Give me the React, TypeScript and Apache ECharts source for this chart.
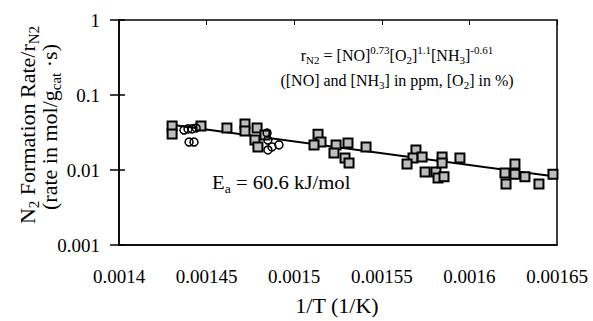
import React, { useEffect, useRef } from "react";
import * as echarts from "echarts";

// 1/T (1/K) values and N2 formation rate / r_N2 (square markers)
const squareX = [
  0.0014303, 0.0014303, 0.0014468, 0.0014616, 0.0014719, 0.0014719, 0.0014788,
  0.0014776, 0.0014793, 0.0014833, 0.0015136, 0.0015153, 0.0015113, 0.0015239,
  0.0015227, 0.0015307, 0.001529, 0.0015313, 0.001541, 0.0015695, 0.0015678,
  0.0015644, 0.001573, 0.0015747, 0.0015809, 0.0015821, 0.0015855, 0.0015844,
  0.0015844, 0.0015946, 0.001626, 0.0016203, 0.001626, 0.0016209, 0.0016317,
  0.0016397, 0.0016477,
];
const squareY = [
  0.0386, 0.0302, 0.0386, 0.0363, 0.041, 0.0331, 0.0363,
  0.0251, 0.0203, 0.0293, 0.0299, 0.0236, 0.0216, 0.0216,
  0.0169, 0.0229, 0.0145, 0.0124, 0.0203, 0.0185, 0.0145,
  0.012, 0.0149, 0.0094, 0.0094, 0.0078, 0.0081, 0.0149,
  0.0124, 0.0145, 0.012, 0.0091, 0.0088, 0.0065, 0.0081,
  0.0065, 0.0088,
];
// circle markers
const circleX = [
  0.0014371, 0.0014394, 0.0014417, 0.001444, 0.00144, 0.0014428,
  0.0014845, 0.001485, 0.0014873, 0.001485, 0.0014913,
];
const circleY = [
  0.0341, 0.0353, 0.0353, 0.0363, 0.0236, 0.0236,
  0.0311, 0.0251, 0.0203, 0.0185, 0.0216,
];
// Arrhenius fit line (Ea = 60.6 kJ/mol)
const fitX = [0.00143, 0.00165];
const fitY = [0.0401, 0.0081];

const xTickLabels = ["0.0014", "0.00145", "0.0015", "0.00155", "0.0016", "0.00165"];
const yTickLabels = ["0.001", "0.01", "0.1", "1"];

const FONT = "'Liberation Serif', 'Times New Roman', serif";
const TICK_FS = 19;

function richFor(fs: number) {
  const small = Math.round(fs * 0.66);
  const lh = Math.round(fs * 1.3);
  return {
    m: { fontFamily: FONT, fontSize: fs, fill: "#000", lineHeight: lh, verticalAlign: "middle" },
    sub: { fontFamily: FONT, fontSize: small, fill: "#000", lineHeight: small, verticalAlign: "bottom" },
    sup: { fontFamily: FONT, fontSize: small, fill: "#000", lineHeight: small, verticalAlign: "top" },
  };
}

function richText(
  x: number,
  y: number,
  text: string,
  align: string,
  fs: number,
  rotation = 0,
  scaleX = 1
) {
  return {
    type: "text",
    x,
    y,
    rotation,
    scaleX,
    silent: true,
    style: {
      text,
      rich: richFor(fs),
      fontFamily: FONT,
      fontSize: fs,
      fill: "#000",
      align,
      textAlign: align,
      verticalAlign: "middle",
      textVerticalAlign: "middle",
    },
  };
}

export default function App() {
  const ref = useRef<HTMLDivElement>(null);
  useEffect(() => {
    if (!ref.current) return;
    const chart = echarts.init(ref.current, undefined, { renderer: "svg" });
    const sq = squareX.map((x, i) => [x, squareY[i]]);
    const ci = circleX.map((x, i) => [x, circleY[i]]);
    const fit = fitX.map((x, i) => [x, fitY[i]]);
    chart.setOption({
      animation: false,
      textStyle: { fontFamily: FONT },
      grid: {
        left: 119,
        right: 36,
        top: 20,
        bottom: 76,
        show: true,
        borderColor: "#000",
        borderWidth: 1.5,
      },
      xAxis: [
        {
          type: "value",
          min: 0.0014,
          max: 0.00165,
          interval: 0.00005,
          position: "bottom",
          axisLine: { show: true, lineStyle: { color: "#000", width: 1.5 } },
          axisTick: { show: false },
          splitLine: { show: false },
          axisLabel: {
            margin: 22,
            color: "#000",
            fontFamily: FONT,
            fontSize: TICK_FS,
            formatter: (_v: number, i: number) => xTickLabels[i] ?? "",
          },
        },
        {
          type: "value",
          min: 0.0014,
          max: 0.00165,
          interval: 0.00005,
          position: "top",
          axisLine: { show: false },
          axisTick: { show: true, inside: true, length: 5, lineStyle: { color: "#000", width: 1 } },
          axisLabel: { show: false },
          splitLine: { show: false },
        },
      ],
      yAxis: [
        {
          type: "log",
          logBase: 10,
          min: 0.001,
          max: 1,
          position: "left",
          axisLine: { show: true, lineStyle: { color: "#000", width: 1.5 } },
          axisTick: { show: true, length: 9, lineStyle: { color: "#000", width: 1.5 } },
          splitLine: { show: false },
          axisLabel: {
            margin: 19,
            color: "#000",
            fontFamily: FONT,
            fontSize: TICK_FS,
            formatter: (_v: number, i: number) => yTickLabels[i] ?? "",
          },
        },
        {
          type: "log",
          logBase: 10,
          min: 0.001,
          max: 1,
          position: "left",
          axisLine: { show: false },
          axisTick: { show: true, inside: true, length: 6, lineStyle: { color: "#000", width: 1.5 } },
          axisLabel: { show: false },
          splitLine: { show: false },
        },
      ],
      series: [
        {
          type: "line",
          data: fit,
          showSymbol: false,
          symbol: "none",
          lineStyle: { color: "#000", width: 2 },
          z: 2,
        },
        {
          type: "scatter",
          data: sq,
          symbol: "rect",
          symbolSize: 9,
          itemStyle: { color: "#bdbdbd", borderColor: "#000", borderWidth: 2, opacity: 1 },
          z: 3,
        },
        {
          type: "scatter",
          data: ci,
          symbol: "circle",
          symbolSize: 8,
          itemStyle: { color: "rgba(0,0,0,0)", borderColor: "#000", borderWidth: 1.5, opacity: 1 },
          z: 4,
        },
      ],
      graphic: [
        richText(27, 125, "{m|N}{sub|2}{m| Formation Rate/r}{sub|N2}", "center", 22, Math.PI / 2),
        richText(49, 127, "{m|(rate in mol/g}{sub|cat}{m| ·s)}", "center", 22, Math.PI / 2),
        richText(
          397,
          55,
          "{m|r}{sub|N2}{m| = [NO]}{sup|0.73}{m|[O}{sub|2}{m|]}{sup|1.1}{m|[NH}{sub|3}{m|]}{sup|-0.61}",
          "center",
          16
        ),
        richText(397, 80, "{m|([NO] and [NH}{sub|3}{m|] in ppm, [O}{sub|2}{m|] in %)}", "center", 16),
        richText(212, 183, "{m|E}{sub|a}{m| = 60.6 kJ/mol}", "left", 18, 0, 1.15),
        {
          type: "text",
          x: 337,
          y: 305,
          silent: true,
          style: {
            text: "1/T (1/K)",
            fontFamily: FONT,
            fontSize: 22,
            fill: "#000",
            align: "center",
            textAlign: "center",
            verticalAlign: "middle",
            textVerticalAlign: "middle",
          },
        },
      ],
    });
    return () => chart.dispose();
  }, []);
  return (
    <div
      ref={ref}
      style={{ position: "fixed", left: 0, top: 0, width: 593, height: 321, background: "#fff" }}
    />
  );
}
